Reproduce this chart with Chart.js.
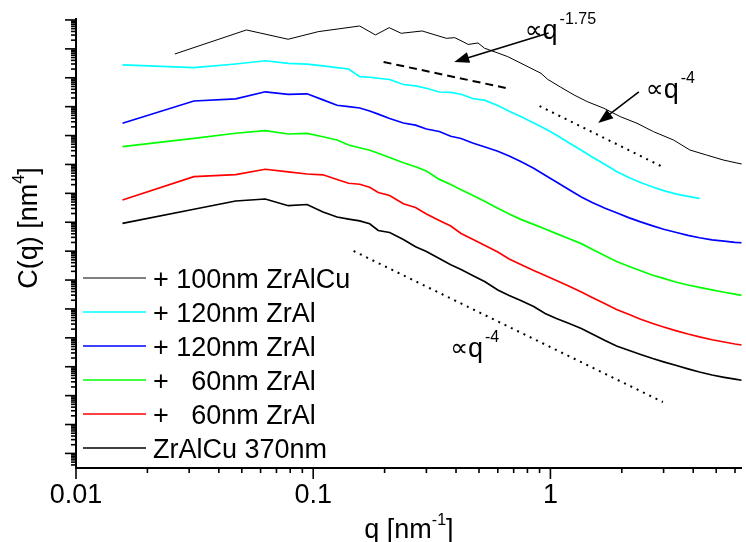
<!DOCTYPE html>
<html><head><meta charset="utf-8">
<script src="https://cdn.jsdelivr.net/npm/chart.js@4/dist/chart.umd.min.js"></script>
<style>html,body{margin:0;padding:0;background:#fff;}canvas{display:block;}</style>
</head><body>
<canvas id="c" width="746" height="542"></canvas>
<script>
// ---------- data (q in nm^-1, C(q) in nm^4, arbitrary vertical offsets) ----------
const Q = [0.0157,0.0314,0.0471,0.0628,0.0785,0.0942,0.110,0.126,0.141,0.157,0.173,0.188,0.21,0.24,0.27,0.30,0.34,0.38,0.42,0.47,0.53,0.60,0.67,0.75,0.85,0.95,1.06,1.2,1.35,1.5,1.7,1.9,2.15,2.4,2.7,3.0,3.4,3.8,4.25,4.8,5.4,6.0,6.4];

const Q_TOP = [0.0261,0.0523,0.0784,0.105,0.157,0.183,0.209,0.235,0.288,0.364,0.395,0.428,0.45,0.495,0.528,0.600,0.661,0.752,0.828,0.912,0.973,1.106,1.258,1.430,1.680,1.972,2.317,2.722,3.301,3.874,4.550,5.346,6.177,6.41];
const C_TOP = [6.65e14,4.51e15,2.15e15,3.94e15,6.19e15,3.03e15,5.41e15,3.46e15,4.16e15,2.32e15,2.44e15,1.77e15,1.42e15,1.60e15,1.05e15,7.21e14,5.37e14,3.17e14,2.13e14,1.43e14,8.85e13,4.69e13,2.54e13,1.49e13,8.79e12,4.50e12,2.66e12,1.36e12,7.03e11,3.16e11,2.12e11,1.43e11,1.10e11,1.04e11];

const C_CYAN = [2.77e14,2.23e14,3.00e14,3.87e14,3.17e14,2.95e14,2.56e14,2.23e14,2.01e14,1.09e14,1.04e14,9.6e13,8.7e13,5.85e13,5.27e13,4.33e13,3.22e13,3.10e13,2.68e13,1.92e13,1.64e13,1.10e13,6.97e12,4.53e12,2.72e12,1.71e12,1.05e12,5.53e11,3.09e11,1.81e11,9.98e10,5.70e10,3.45e10,2.38e10,1.66e10,1.24e10,9.4e9,7.9e9,6.7e9];

const C_BLUE = [2.66e12,1.57e13,1.85e13,3.27e13,2.68e13,2.79e13,1.72e13,1.12e13,1.0e13,9.0e12,7.08e12,5.50e12,3.90e12,2.72e12,2.29e12,1.69e12,1.38e12,9.44e11,7.93e11,5.53e11,4.02e11,2.88e11,1.96e11,1.26e11,7.43e10,4.22e10,2.47e10,1.33e10,7.48e9,4.83e9,3.06e9,2.12e9,1.42e9,1.03e9,7.48e8,5.70e8,4.42e8,3.53e8,2.90e8,2.47e8,2.21e8,2.02e8,1.95e8];

const C_GREEN = [4.12e11,7.93e11,1.20e12,1.47e12,1.13e12,1.19e12,9.06e11,7.03e11,4.72e11,3.78e11,3.09e11,2.45e11,1.74e11,1.15e11,8.30e10,5.94e10,3.04e10,2.03e10,1.34e10,8.57e9,5.22e9,3.04e9,1.93e9,1.26e9,8.43e8,5.83e8,4.05e8,2.70e8,1.82e8,1.16e8,6.90e7,4.38e7,2.96e7,2.09e7,1.47e7,1.14e7,8.41e6,6.73e6,5.61e6,4.59e6,3.79e6,3.24e6,2.96e6];

const C_RED = [5.89e9,3.77e10,4.43e10,6.81e10,5.57e10,4.68e10,4.39e10,3.02e10,2.24e10,2.07e10,1.62e10,1.07e10,8.43e9,4.36e9,3.24e9,1.93e9,1.15e9,7.41e8,4.08e8,2.59e8,1.57e8,9.33e7,5.35e7,3.45e7,2.14e7,1.44e7,9.64e6,6.12e6,3.85e6,2.49e6,1.50e6,9.55e5,6.41e5,4.41e5,3.13e5,2.37e5,1.75e5,1.36e5,1.08e5,8.61e4,7.16e4,6.11e4,5.65e4];

const C_BLACK = [9.20e8,2.81e9,5.43e9,6.38e9,3.74e9,4.11e9,2.26e9,1.52e9,1.29e9,1.12e9,8.83e8,5.18e8,4.42e8,2.53e8,1.41e8,9.73e7,5.56e7,3.37e7,2.32e7,1.44e7,8.69e6,4.56e6,2.92e6,1.96e6,1.21e6,6.95e5,4.67e5,3.13e5,2.10e5,1.36e5,8.07e4,5.21e4,3.65e4,2.65e4,1.92e4,1.48e4,1.10e4,8.47e3,6.56e3,5.16e3,4.31e3,3.70e3,3.41e3];

const SERIES_LABELS = ['+ 100nm ZrAlCu','+ 120nm ZrAl','+ 120nm ZrAl','+   60nm ZrAl','+   60nm ZrAl','ZrAlCu 370nm'];

const X_MIN = 0.01, X_MAX = 6.41;
const Y_MIN = 3.13, Y_MAX = 1.08e16;
const X_MAJOR = [0.01, 0.1, 1];
const X_MAJOR_LABELS = ['0.01', '0.1', '1'];
const X_MINOR = [0.02,0.03,0.04,0.05,0.06,0.07,0.08,0.09,0.2,0.3,0.4,0.5,0.6,0.7,0.8,0.9,2,3,4,5,6];
const Y_DECADES = [0,1,2,3,4,5,6,7,8,9,10,11,12,13,14,15,16];
const Y_MINOR_STEPS = [2,3,4,5,6,7,8,9];

// slope guides and annotations (data coordinates)
const GUIDE_175_Q = [0.198, 0.648], GUIDE_175_C = [3.52e14, 4.43e13];
const GUIDE_4A_Q = [0.900, 2.92],   GUIDE_4A_C = [1.05e13, 8.85e10];
const GUIDE_4B_Q = [0.148, 2.98],   GUIDE_4B_C = [1.01e8, 6.01e2];
const ARROW1_Q = [0.983, 0.393], ARROW1_C = [3.55e15, 3.52e14];
const ARROW2_Q = [2.36, 1.59],   ARROW2_C = [3.22e13, 2.72e12];
const NOTE_Q = [0.802, 2.60, 0.389];
const NOTE_C = [2.2e15, 2.0e13, 2.17e4];
const NOTE_EXP = ['-1.75', '-4', '-4'];

// ---------- chart ----------
const FONT = '"Liberation Sans", Arial, sans-serif';
const toPts = (qs, cs) => qs.map((q, i) => ({x: q, y: cs[i]})).filter(p => p.y != null);

const decor = {
  id: 'decor',
  afterDraw(chart) {
    const {ctx, chartArea: a, scales: {x, y}} = chart;
    ctx.save();
    ctx.strokeStyle = '#000';
    ctx.fillStyle = '#000';
    ctx.setLineDash([]);
    // x tick marks
    ctx.lineWidth = 1.6;
    const line = (x1, y1, x2, y2) => { ctx.beginPath(); ctx.moveTo(x1, y1); ctx.lineTo(x2, y2); ctx.stroke(); };
    X_MAJOR.forEach(v => { const px = x.getPixelForValue(v); line(px, a.bottom, px, a.bottom + 11); });
    X_MINOR.forEach(v => { const px = x.getPixelForValue(v); line(px, a.bottom, px, a.bottom + 5); });
    // y tick marks
    Y_DECADES.forEach(n => {
      const base = Math.pow(10, n);
      if (base >= Y_MIN && base <= Y_MAX) { const py = y.getPixelForValue(base); line(a.left - 11, py, a.left, py); }
      Y_MINOR_STEPS.forEach(k => {
        const v = k * base;
        if (v >= Y_MIN && v <= Y_MAX) { const py = y.getPixelForValue(v); line(a.left - 5, py, a.left, py); }
      });
    });

    // composite text with superscript
    const drawParts = (parts, x0, y0) => {
      let cx = x0;
      parts.forEach(p => {
        ctx.font = p.font;
        ctx.fillText(p.t, cx, y0 + (p.dy || 0));
        cx += ctx.measureText(p.t).width + (p.gap || 0);
      });
    };
    const partsWidth = parts => parts.reduce((w, p) => { ctx.font = p.font; return w + ctx.measureText(p.t).width + (p.gap || 0); }, 0);
    ctx.textBaseline = 'alphabetic';
    ctx.textAlign = 'left';
    const big = '27px ' + FONT, sup = '16px ' + FONT;

    // x title
    const xt = [{t: 'q [nm', font: big}, {t: '-1', font: sup, dy: -13}, {t: ']', font: big}];
    drawParts(xt, (a.left + a.right) / 2 - partsWidth(xt) / 2, 538);

    // y title
    const yt = [{t: 'C(q) [nm', font: big}, {t: '4', font: sup, dy: -13}, {t: ']', font: big}];
    ctx.save();
    ctx.translate(37, 228);
    ctx.rotate(-Math.PI / 2);
    drawParts(yt, -partsWidth(yt) / 2, 0);
    ctx.restore();

    // guides
    const guide = (qs, cs, dash) => {
      ctx.save();
      ctx.lineWidth = 2;
      ctx.setLineDash(dash);
      line(x.getPixelForValue(qs[0]), y.getPixelForValue(cs[0]), x.getPixelForValue(qs[1]), y.getPixelForValue(cs[1]));
      ctx.restore();
    };
    guide(GUIDE_175_Q, GUIDE_175_C, [8, 5]);
    guide(GUIDE_4A_Q, GUIDE_4A_C, [2, 5]);
    guide(GUIDE_4B_Q, GUIDE_4B_C, [2, 5]);

    // arrows
    const arrow = (qs, cs) => {
      const x1 = x.getPixelForValue(qs[0]), y1 = y.getPixelForValue(cs[0]);
      const x2 = x.getPixelForValue(qs[1]), y2 = y.getPixelForValue(cs[1]);
      const ang = Math.atan2(y2 - y1, x2 - x1);
      const L = 15, W = 5.5;
      ctx.lineWidth = 1.6;
      line(x1, y1, x2 - Math.cos(ang) * L * 0.8, y2 - Math.sin(ang) * L * 0.8);
      ctx.beginPath();
      ctx.moveTo(x2, y2);
      ctx.lineTo(x2 - Math.cos(ang) * L - Math.sin(ang) * W, y2 - Math.sin(ang) * L + Math.cos(ang) * W);
      ctx.lineTo(x2 - Math.cos(ang) * L + Math.sin(ang) * W, y2 - Math.sin(ang) * L - Math.cos(ang) * W);
      ctx.closePath();
      ctx.fill();
    };
    arrow(ARROW1_Q, ARROW1_C);
    arrow(ARROW2_Q, ARROW2_C);

    // annotation texts
    NOTE_Q.forEach((q, i) => {
      const px = x.getPixelForValue(q), py = y.getPixelForValue(NOTE_C[i]);
      drawParts([
        {t: '\u221D', font: '25px "DejaVu Sans", sans-serif', dy: -1, gap: 0},
        {t: 'q', font: big, gap: 2},
        {t: NOTE_EXP[i], font: sup, dy: -15}
      ], px - 3, py);
    });

    // legend
    ctx.font = big;
    chart.data.datasets.forEach((ds, i) => {
      const ry = a.top + 259 + i * 34;
      ctx.save();
      ctx.strokeStyle = ds.borderColor;
      ctx.lineWidth = ds.borderWidth;
      line(a.left + 7, ry, a.left + 70, ry);
      ctx.restore();
      ctx.fillText(ds.label, a.left + 77, ry + 10);
    });
    ctx.restore();
  }
};

new Chart(document.getElementById('c'), {
  type: 'line',
  data: {
    datasets: [
      {label: SERIES_LABELS[0], data: toPts(Q_TOP, C_TOP), borderColor: '#000000', borderWidth: 1},
      {label: SERIES_LABELS[1], data: toPts(Q, C_CYAN), borderColor: '#00ffff', borderWidth: 1.7},
      {label: SERIES_LABELS[2], data: toPts(Q, C_BLUE), borderColor: '#0000ff', borderWidth: 1.7},
      {label: SERIES_LABELS[3], data: toPts(Q, C_GREEN), borderColor: '#00ff00', borderWidth: 1.7},
      {label: SERIES_LABELS[4], data: toPts(Q, C_RED), borderColor: '#ff0000', borderWidth: 1.7},
      {label: SERIES_LABELS[5], data: toPts(Q, C_BLACK), borderColor: '#000000', borderWidth: 1.7}
    ]
  },
  options: {
    responsive: false,
    animation: false,
    devicePixelRatio: 1,
    layout: {padding: {top: 19, left: 0, right: 0, bottom: 0}},
    elements: {point: {radius: 0}, line: {tension: 0, fill: false}},
    plugins: {legend: {display: false}, tooltip: {enabled: false}, title: {display: false}},
    scales: {
      x: {
        type: 'logarithmic', position: 'bottom', min: X_MIN, max: X_MAX,
        afterBuildTicks: s => { s.ticks = [...X_MAJOR, ...X_MINOR].sort((p, q) => p - q).map(v => ({value: v})); },
        afterFit: s => { s.height = 74; },
        grid: {display: false, drawTicks: false},
        border: {display: true, color: '#000', width: 2},
        ticks: {
          autoSkip: false, maxRotation: 0, minRotation: 0, padding: 11, color: '#000',
          font: {family: FONT, size: 27},
          callback: v => { const i = X_MAJOR.indexOf(v); return i >= 0 ? X_MAJOR_LABELS[i] : ''; }
        }
      },
      y: {
        type: 'logarithmic', position: 'left', min: Y_MIN, max: Y_MAX,
        afterFit: s => { s.width = 76; },
        grid: {display: false, drawTicks: false},
        border: {display: true, color: '#000', width: 2},
        ticks: {display: false}
      }
    }
  },
  plugins: [decor]
});
</script>
</body></html>
